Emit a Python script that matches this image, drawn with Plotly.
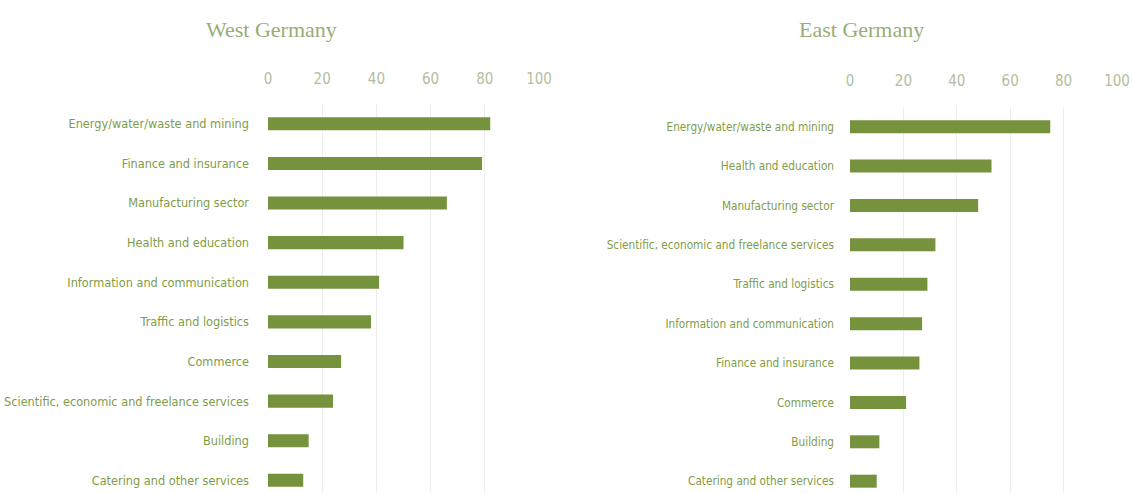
import plotly.graph_objects as go

# Sector shares (%) by region
west_sectors = [
    "Energy/water/waste and mining",
    "Finance and insurance",
    "Manufacturing sector",
    "Health and education",
    "Information and communication",
    "Traffic and logistics",
    "Commerce",
    "Scientific, economic and freelance services",
    "Building",
    "Catering and other services",
]
west_values = [82, 79, 66, 50, 41, 38, 27, 24, 15, 13]

east_sectors = [
    "Energy/water/waste and mining",
    "Health and education",
    "Manufacturing sector",
    "Scientific, economic and freelance services",
    "Traffic and logistics",
    "Information and communication",
    "Finance and insurance",
    "Commerce",
    "Building",
    "Catering and other services",
]
east_values = [75, 53, 48, 32, 29, 27, 26, 21, 11, 10]

x_ticks = [0, 20, 40, 60, 80, 100]

BAR = "#76923c"
LABEL = "#7f9c47"
TICK = "#b3bd9f"
TITLE = "#98ad78"
GRID = "#ededed"
NARROW = "DejaVu Sans Condensed, Liberation Sans Narrow, Roboto, sans-serif"

W, H = 1132, 493

fig = go.Figure()
fig.add_trace(go.Bar(x=west_values, y=west_sectors, orientation="h",
                     marker=dict(color=BAR, line=dict(width=0)), width=0.33,
                     xaxis="x", yaxis="y", hoverinfo="x+y"))
fig.add_trace(go.Bar(x=east_values, y=east_sectors, orientation="h",
                     marker=dict(color=BAR, line=dict(width=0)), width=0.33,
                     xaxis="x2", yaxis="y2", hoverinfo="x+y"))


def xaxis(x0, x1, anchor, standoff):
    return dict(domain=[x0 / W, x1 / W], range=[0, 100], side="top",
                tickvals=x_ticks, showgrid=True, gridcolor=GRID, gridwidth=1,
                zeroline=False, showline=False, ticks="", automargin=False,
                tickfont=dict(family=NARROW, size=15, color=TICK),
                ticklabelstandoff=standoff, ticklabeloverflow="allow",
                anchor=anchor, fixedrange=True)


def yaxis(top_px, bottom_idx, size, standoff, anchor):
    # category axis, reversed so the first sector sits on top; the last
    # band runs slightly past the bottom edge of the page
    return dict(domain=[0, 1 - top_px / H], type="category",
                range=[bottom_idx, -0.5],
                showgrid=False, zeroline=False, showline=False, ticks="",
                automargin=False,
                tickfont=dict(family=NARROW, size=size, color=LABEL),
                ticklabelstandoff=standoff, anchor=anchor, fixedrange=True)


fig.update_layout(
    width=W, height=H,
    margin=dict(l=0, r=0, t=0, b=0, autoexpand=False),
    paper_bgcolor="white", plot_bgcolor="white",
    showlegend=False,
    xaxis=xaxis(268, 539, "y", 16),
    xaxis2=xaxis(850, 1117, "y2", 17),
    yaxis=yaxis(104, 9.32, 12.6, 18, "x"),
    yaxis2=yaxis(107, 9.3, 11.7, 15, "x2"),
    annotations=[
        dict(text="West Germany", x=271 / W, y=1 - 30 / H, xref="paper", yref="paper",
             showarrow=False, xanchor="center", yanchor="middle",
             font=dict(family="Liberation Serif", size=22, color=TITLE)),
        dict(text="East Germany", x=861 / W, y=1 - 30 / H, xref="paper", yref="paper",
             showarrow=False, xanchor="center", yanchor="middle",
             font=dict(family="Liberation Serif", size=22, color=TITLE)),
    ],
)

fig.write_html("out.html")
